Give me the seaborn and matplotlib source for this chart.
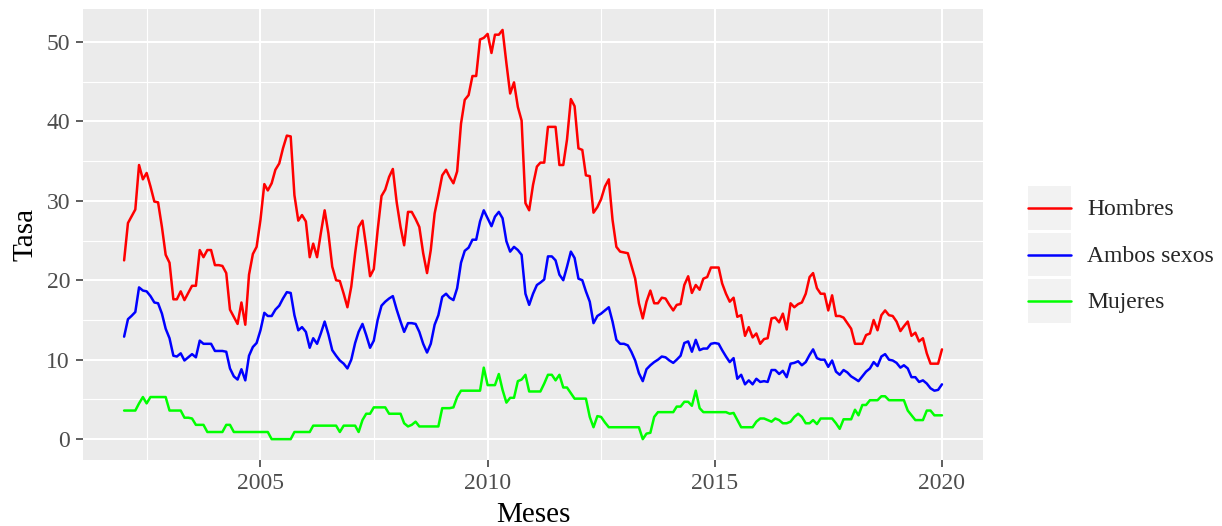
import numpy as np
import pandas as pd
import matplotlib
matplotlib.use('Agg')
import matplotlib.pyplot as plt
import matplotlib.dates as mdates
from matplotlib.legend_handler import HandlerLine2D
from matplotlib.patches import Rectangle
from matplotlib.ticker import MultipleLocator, FixedLocator
import seaborn as sns

# meses: enero 2002 - enero 2020
meses = pd.date_range('2002-01-01', periods=217, freq='MS')

hombres = [
    22.5, 27.2, 28.0, 28.9, 34.5, 32.7, 33.5, 31.8, 29.9, 29.8, 26.7, 23.2,
    22.2, 17.6, 17.6, 18.6, 17.5, 18.4, 19.3, 19.3, 23.8, 22.9, 23.8, 23.8,
    21.9, 21.9, 21.8, 20.9, 16.3, 15.4, 14.5, 17.2, 14.4, 20.7, 23.3, 24.2,
    27.6, 32.1, 31.3, 32.2, 33.9, 34.7, 36.6, 38.2, 38.1, 30.7, 27.5, 28.2,
    27.4, 22.9, 24.6, 22.9, 25.9, 28.8, 25.9, 21.7, 20.0, 19.9, 18.3, 16.6,
    19.2, 23.4, 26.7, 27.5, 24.2, 20.5, 21.4, 26.3, 30.6, 31.4, 33.0, 34.0,
    29.8, 26.7, 24.4, 28.6, 28.6, 27.7, 26.7, 23.4, 20.9, 23.8, 28.4, 30.7,
    33.2, 33.9, 33.0, 32.2, 33.7, 39.7, 42.7, 43.3, 45.7, 45.7, 50.3, 50.5,
    51.0, 48.6, 50.9, 50.9, 51.5, 47.3, 43.5, 44.9, 41.8, 40.1, 29.7, 28.8,
    32.0, 34.3, 34.8, 34.8, 39.3, 39.3, 39.3, 34.5, 34.5, 37.7, 42.8, 41.9,
    36.6, 36.4, 33.2, 33.1, 28.5, 29.2, 30.2, 31.8, 32.7, 27.6, 24.2, 23.6,
    23.5, 23.4, 21.9, 20.2, 17.1, 15.2, 17.3, 18.7, 17.1, 17.1, 17.8, 17.7,
    16.9, 16.2, 16.9, 17.0, 19.4, 20.5, 18.4, 19.4, 18.8, 20.2, 20.4, 21.6,
    21.6, 21.6, 19.6, 18.3, 17.3, 17.8, 15.4, 15.6, 13.0, 14.1, 12.8, 13.3,
    12.0, 12.6, 12.7, 15.2, 15.3, 14.7, 15.8, 13.8, 17.1, 16.6, 17.0, 17.2,
    18.3, 20.4, 20.9, 19.0, 18.3, 18.3, 16.2, 18.1, 15.5, 15.5, 15.3, 14.6,
    13.9, 12.0, 12.0, 12.0, 13.1, 13.3, 15.0, 13.7, 15.6, 16.2, 15.6, 15.5,
    14.8, 13.6, 14.2, 14.8, 13.0, 13.4, 12.3, 12.7, 10.8, 9.5, 9.5, 9.5,
    11.3,
]

ambos = [
    12.9, 15.1, 15.5, 16.0, 19.1, 18.7, 18.6, 18.0, 17.2, 17.1, 15.8, 13.9,
    12.7, 10.5, 10.4, 10.8, 9.9, 10.3, 10.7, 10.3, 12.4, 12.0, 12.0, 12.0,
    11.1, 11.1, 11.1, 11.0, 8.9, 7.9, 7.5, 8.8, 7.4, 10.5, 11.6, 12.1,
    13.7, 15.9, 15.5, 15.5, 16.3, 16.8, 17.7, 18.5, 18.4, 15.6, 13.7, 14.1,
    13.5, 11.5, 12.7, 12.0, 13.3, 14.8, 13.2, 11.2, 10.5, 9.9, 9.5, 8.9,
    10.0, 12.1, 13.5, 14.5, 13.1, 11.5, 12.4, 15.0, 16.8, 17.3, 17.7, 18.0,
    16.3, 14.8, 13.5, 14.6, 14.6, 14.5, 13.5, 12.0, 10.9, 12.0, 14.4, 15.6,
    17.9, 18.3, 17.8, 17.5, 19.0, 22.2, 23.7, 24.1, 25.1, 25.1, 27.4, 28.8,
    27.8, 26.8, 28.0, 28.6, 27.8, 24.9, 23.6, 24.2, 23.8, 23.2, 18.3, 16.9,
    18.3, 19.4, 19.7, 20.1, 23.0, 23.0, 22.5, 20.7, 20.0, 21.7, 23.6, 22.8,
    20.2, 20.0, 18.6, 17.3, 14.6, 15.5, 15.8, 16.2, 16.6, 14.8, 12.5, 12.0,
    12.0, 11.8, 11.0, 9.9, 8.3, 7.3, 8.8, 9.3, 9.7, 10.0, 10.4, 10.3,
    9.9, 9.6, 10.0, 10.5, 12.1, 12.3, 11.0, 12.5, 11.2, 11.4, 11.4, 12.0,
    12.1, 12.0, 11.2, 10.4, 9.7, 10.2, 7.6, 8.1, 6.9, 7.4, 6.9, 7.6,
    7.2, 7.3, 7.2, 8.7, 8.7, 8.2, 8.6, 7.8, 9.5, 9.6, 9.8, 9.3,
    9.7, 10.6, 11.3, 10.2, 10.0, 10.0, 9.1, 9.9, 8.5, 8.1, 8.7, 8.4,
    7.9, 7.6, 7.3, 7.9, 8.5, 8.9, 9.7, 9.2, 10.4, 10.7, 10.0, 9.9,
    9.6, 9.0, 9.3, 8.9, 7.8, 7.8, 7.2, 7.4, 7.0, 6.4, 6.1, 6.2,
    6.9,
]

mujeres = [
    3.6, 3.6, 3.6, 3.6, 4.5, 5.3, 4.5, 5.3, 5.3, 5.3, 5.3, 5.3,
    3.6, 3.6, 3.6, 3.6, 2.7, 2.7, 2.6, 1.8, 1.8, 1.8, 0.9, 0.9,
    0.9, 0.9, 0.9, 1.8, 1.8, 0.9, 0.9, 0.9, 0.9, 0.9, 0.9, 0.9,
    0.9, 0.9, 0.9, 0.0, 0.0, 0.0, 0.0, 0.0, 0.0, 0.9, 0.9, 0.9,
    0.9, 0.9, 1.7, 1.7, 1.7, 1.7, 1.7, 1.7, 1.7, 0.9, 1.7, 1.7,
    1.7, 1.7, 0.9, 2.4, 3.2, 3.2, 4.0, 4.0, 4.0, 4.0, 3.2, 3.2,
    3.2, 3.2, 2.0, 1.6, 1.8, 2.2, 1.6, 1.6, 1.6, 1.6, 1.6, 1.6,
    3.9, 3.9, 3.9, 4.0, 5.3, 6.1, 6.1, 6.1, 6.1, 6.1, 6.1, 9.0,
    6.8, 6.8, 6.8, 8.2, 6.2, 4.6, 5.2, 5.2, 7.3, 7.5, 8.1, 6.0,
    6.0, 6.0, 6.0, 7.0, 8.1, 8.1, 7.4, 8.1, 6.5, 6.5, 5.8, 5.1,
    5.1, 5.1, 5.1, 2.8, 1.5, 2.9, 2.8, 2.1, 1.5, 1.5, 1.5, 1.5,
    1.5, 1.5, 1.5, 1.5, 1.5, 0.0, 0.7, 0.8, 2.8, 3.4, 3.4, 3.4,
    3.4, 3.4, 4.1, 4.1, 4.7, 4.7, 4.2, 6.1, 3.9, 3.4, 3.4, 3.4,
    3.4, 3.4, 3.4, 3.4, 3.2, 3.3, 2.4, 1.5, 1.5, 1.5, 1.5, 2.2,
    2.6, 2.6, 2.4, 2.2, 2.6, 2.4, 2.0, 2.0, 2.2, 2.8, 3.2, 2.8,
    2.0, 2.0, 2.4, 1.9, 2.6, 2.6, 2.6, 2.6, 2.0, 1.3, 2.5, 2.5,
    2.5, 3.7, 3.0, 4.3, 4.3, 4.9, 4.9, 4.9, 5.4, 5.4, 4.9, 4.9,
    4.9, 4.9, 4.9, 3.6, 3.0, 2.4, 2.4, 2.4, 3.6, 3.6, 3.0, 3.0,
    3.0,
]

series = ['Hombres', 'Ambos sexos', 'Mujeres']
colores = ['#FF0000', '#0000FF', '#00FF00']

df = pd.DataFrame({
    'Meses': np.tile(meses, 3),
    'Tasa': hombres + ambos + mujeres,
    'Sexo': np.repeat(series, len(meses)),
})

# estilo tipo ggplot (theme_gray)
sns.set_theme(style='darkgrid', rc={
    'axes.facecolor': '#EBEBEB',
    'figure.facecolor': 'white',
    'grid.color': 'white',
})
plt.rcParams['font.family'] = ['Liberation Serif', 'DejaVu Serif']

fig = plt.figure(figsize=(12.22, 5.26), dpi=100)
ax = fig.add_axes([0.0681, 0.1262, 0.7362, 0.8558])

sns.lineplot(data=df, x='Meses', y='Tasa', hue='Sexo', hue_order=series,
             palette=colores, linewidth=1.8, ax=ax)

ax.margins(x=0.05, y=0.05)
ax.yaxis.set_major_locator(MultipleLocator(10))
ax.yaxis.set_minor_locator(MultipleLocator(5))
ax.xaxis.set_major_locator(mdates.YearLocator(5))
ax.xaxis.set_major_formatter(mdates.DateFormatter('%Y'))
medios = pd.to_datetime(['2002-07-02', '2007-07-02', '2012-07-02', '2017-07-02'])
ax.xaxis.set_minor_locator(FixedLocator(mdates.date2num(medios)))

ax.grid(which='major', color='white', linewidth=1.5)
ax.grid(which='minor', color='white', linewidth=0.8)
for s in ax.spines.values():
    s.set_visible(False)
ax.tick_params(which='major', length=5, width=1.1, color='#333333',
               labelcolor='#4D4D4D', labelsize=17, pad=4.5,
               bottom=True, left=True)
ax.tick_params(which='minor', length=0)

ax.set_xlabel('Meses', fontsize=21, color='black', labelpad=6)
ax.set_ylabel('Tasa', fontsize=21, color='black', labelpad=6)


class KeyHandler(HandlerLine2D):
    # fondo gris de la clave, como en ggplot
    def create_artists(self, legend, orig_handle, xdescent, ydescent,
                       width, height, fontsize, trans):
        arts = super().create_artists(legend, orig_handle, xdescent, ydescent,
                                      width, height, fontsize, trans)
        centro = height / 2 - ydescent
        for a in arts:
            a.set_ydata([centro] * len(a.get_xdata()))
        fondo = Rectangle((-xdescent, -ydescent), width, height,
                          facecolor='#F2F2F2', edgecolor='none', transform=trans)
        return [fondo] + arts


handles, labels = ax.get_legend_handles_labels()
ax.get_legend().remove()
fig.legend(handles, labels, loc='center left', bbox_to_anchor=(1028 / 1222, 0.516),
           frameon=False, fontsize=17, borderpad=0, borderaxespad=0,
           handlelength=1.82, handleheight=2.46, labelspacing=0.13,
           handletextpad=0.68,
           handler_map={h: KeyHandler(marker_pad=0.17) for h in handles})

fig.savefig('out.png', dpi=100)
